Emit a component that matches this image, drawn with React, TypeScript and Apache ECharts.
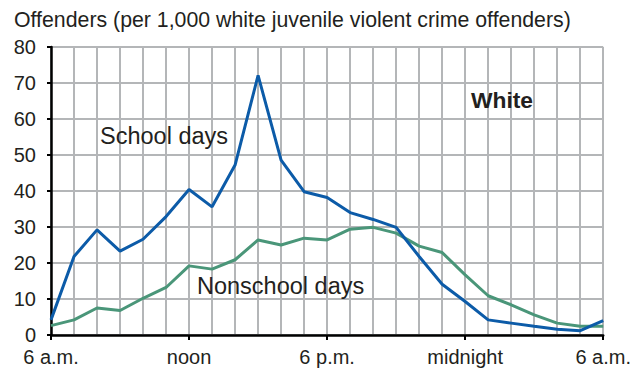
import React, { useEffect, useRef } from "react";
import * as echarts from "echarts";

const hours: string[] = [
  "6 a.m.", "7 a.m.", "8 a.m.", "9 a.m.", "10 a.m.", "11 a.m.",
  "noon", "1 p.m.", "2 p.m.", "3 p.m.", "4 p.m.", "5 p.m.",
  "6 p.m.", "7 p.m.", "8 p.m.", "9 p.m.", "10 p.m.", "11 p.m.",
  "midnight", "1 a.m.", "2 a.m.", "3 a.m.", "4 a.m.", "5 a.m.", "6 a.m. (next day)",
];
const shownLabels: Record<number, string> = { 0: "6 a.m.", 6: "noon", 12: "6 p.m.", 18: "midnight", 24: "6 a.m." };

const schoolDays: number[] = [
  4.2, 21.8, 29.2, 23.3, 26.6, 32.9, 40.4, 35.6, 47.2, 72.1, 48.6, 39.8,
  38.2, 34.0, 32.1, 29.9, 21.8, 14.1, 9.3, 4.2, 3.3, 2.4, 1.6, 1.2, 4.0,
];
const nonschoolDays: number[] = [
  2.6, 4.2, 7.5, 6.8, 10.2, 13.2, 19.2, 18.3, 20.9, 26.4, 25.0, 26.9,
  26.4, 29.4, 29.9, 28.3, 24.7, 22.9, 16.7, 10.9, 8.4, 5.6, 3.3, 2.4, 2.4,
];

const FONT = "'Liberation Sans', Arial, Helvetica, sans-serif";
const TEXT = "#231f20";
const GRID = "#b4b6b8";

export default function App() {
  const ref = useRef<HTMLDivElement>(null);
  useEffect(() => {
    if (!ref.current) return;
    const chart = echarts.init(ref.current, null, { renderer: "svg" });
    chart.setOption({
      animation: false,
      backgroundColor: "#ffffff",
      grid: { left: 51, right: 27, top: 47, bottom: 34 },
      xAxis: {
        type: "category",
        data: hours,
        boundaryGap: false,
        axisLine: { show: true, lineStyle: { color: "#000", width: 2.5 } },
        axisTick: {
          show: true,
          interval: (i: number) => i % 6 === 0,
          length: 5,
          lineStyle: { color: "#000", width: 2 },
        },
        axisLabel: {
          interval: (i: number) => i % 6 === 0,
          formatter: (_v: string, i: number) => shownLabels[i] ?? "",
          fontFamily: FONT,
          fontSize: 20,
          color: TEXT,
          margin: 12,
        },
        splitLine: { show: true, interval: 0, lineStyle: { color: GRID, width: 2 } },
      },
      yAxis: {
        type: "value",
        min: 0,
        max: 80,
        interval: 10,
        axisLine: { show: true, lineStyle: { color: "#000", width: 2.5 } },
        axisTick: { show: true, length: 4, lineStyle: { color: "#000", width: 2 } },
        axisLabel: { fontFamily: FONT, fontSize: 20, color: TEXT, margin: 15 },
        splitLine: { show: true, lineStyle: { color: GRID, width: 2 } },
      },
      series: [
        {
          name: "Nonschool days",
          type: "line",
          data: nonschoolDays,
          symbol: "none",
          lineStyle: { color: "#4a9679", width: 3 },
          itemStyle: { color: "#4a9679" },
          z: 3,
        },
        {
          name: "School days",
          type: "line",
          data: schoolDays,
          symbol: "none",
          lineStyle: { color: "#0c5ba8", width: 3 },
          itemStyle: { color: "#0c5ba8" },
          z: 4,
        },
      ],
      graphic: [
        {
          type: "text",
          left: 14,
          top: 9,
          style: {
            text: "Offenders (per 1,000 white juvenile violent crime offenders)",
            fontFamily: FONT,
            fontSize: 21.3,
            fill: TEXT,
          },
        },
        {
          type: "text",
          x: 471,
          y: 100,
          style: {
            text: "White",
            fontFamily: FONT,
            fontSize: 22.8,
            fontWeight: "bold",
            fill: TEXT,
            verticalAlign: "middle",
          },
          z: 10,
        },
        {
          type: "text",
          x: 100,
          y: 136,
          style: {
            text: "School days",
            fontFamily: FONT,
            fontSize: 23.5,
            fill: TEXT,
            verticalAlign: "middle",
          },
          z: 10,
        },
        {
          type: "text",
          x: 197,
          y: 286,
          style: {
            text: "Nonschool days",
            fontFamily: FONT,
            fontSize: 23.5,
            fill: TEXT,
            verticalAlign: "middle",
          },
          z: 10,
        },
      ],
    });
    return () => chart.dispose();
  }, []);
  return (
    <div
      ref={ref}
      style={{ position: "fixed", left: 0, top: 0, width: 634, height: 369 }}
    />
  );
}
